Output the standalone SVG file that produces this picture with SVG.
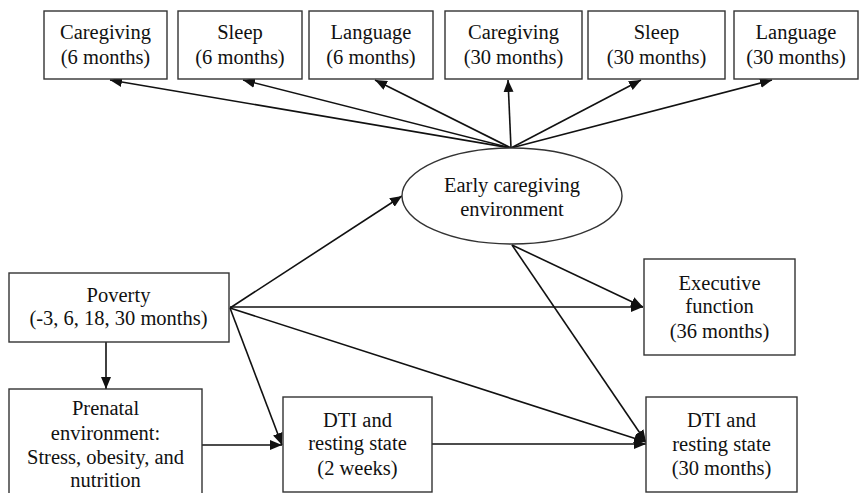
<svg xmlns="http://www.w3.org/2000/svg" width="859" height="493" viewBox="0 0 859 493">
<defs>
<style>
.box{fill:#fff;stroke:#333;stroke-width:1.4}
.t{font-family:"Liberation Serif","Times New Roman",serif;font-size:20.5px;fill:#111;text-anchor:middle}
.c{stroke:#111;stroke-width:1.6;fill:none;marker-end:url(#ah)}
</style>
<marker id="ah" markerUnits="userSpaceOnUse" markerWidth="13" markerHeight="10" refX="12" refY="5" orient="auto">
<path d="M0,0 L12,5 L0,10 Z" fill="#111"/>
</marker>
</defs>
<rect width="859" height="493" fill="#fff"/>
<g id="connectors">
<line class="c" x1="511" y1="148" x2="110" y2="80"/>
<line class="c" x1="511" y1="148" x2="243" y2="80"/>
<line class="c" x1="511" y1="148" x2="375" y2="80"/>
<line class="c" x1="511" y1="148" x2="508" y2="80"/>
<line class="c" x1="511" y1="148" x2="641" y2="80"/>
<line class="c" x1="511" y1="148" x2="772" y2="80"/>
<line class="c" x1="230" y1="308" x2="402" y2="196"/>
<line class="c" x1="230" y1="307" x2="643" y2="307"/>
<line class="c" x1="230" y1="308" x2="646" y2="442"/>
<line class="c" x1="230" y1="308" x2="282" y2="445"/>
<line class="c" x1="512" y1="245" x2="643" y2="307"/>
<line class="c" x1="512" y1="245" x2="646" y2="442"/>
<line class="c" x1="106" y1="342" x2="106" y2="389"/>
<line class="c" x1="202" y1="445" x2="282" y2="445"/>
<line class="c" x1="432" y1="444" x2="646" y2="444"/>
</g>
<g id="caregiving6">
<rect class="box" x="44" y="11" width="123" height="68"/>
<text class="t" x="105.5" y="39">Caregiving</text>
<text class="t" x="105.5" y="64">(6 months)</text>
</g>
<g id="sleep6">
<rect class="box" x="178" y="11" width="124" height="68"/>
<text class="t" x="240" y="39">Sleep</text>
<text class="t" x="240" y="64">(6 months)</text>
</g>
<g id="language6">
<rect class="box" x="309" y="11" width="124" height="68"/>
<text class="t" x="371" y="39">Language</text>
<text class="t" x="371" y="64">(6 months)</text>
</g>
<g id="caregiving30">
<rect class="box" x="445" y="11" width="137" height="68"/>
<text class="t" x="513.5" y="39">Caregiving</text>
<text class="t" x="513.5" y="64">(30 months)</text>
</g>
<g id="sleep30">
<rect class="box" x="588" y="11" width="137" height="68"/>
<text class="t" x="656.5" y="39">Sleep</text>
<text class="t" x="656.5" y="64">(30 months)</text>
</g>
<g id="language30">
<rect class="box" x="734" y="11" width="124" height="68"/>
<text class="t" x="796" y="39">Language</text>
<text class="t" x="796" y="64">(30 months)</text>
</g>
<g id="early-caregiving">
<ellipse class="box" cx="512" cy="196" rx="110" ry="48"/>
<text class="t" x="512" y="192">Early caregiving</text>
<text class="t" x="512" y="216">environment</text>
</g>
<g id="poverty">
<rect class="box" x="9" y="273" width="220" height="69"/>
<text class="t" x="118.5" y="302">Poverty</text>
<text class="t" x="118.5" y="325">(-3, 6, 18, 30 months)</text>
</g>
<g id="executive-function">
<rect class="box" x="644" y="259" width="151" height="96"/>
<text class="t" x="719.5" y="290">Executive</text>
<text class="t" x="719.5" y="313">function</text>
<text class="t" x="719.5" y="338">(36 months)</text>
</g>
<g id="prenatal">
<rect class="box" x="9" y="389" width="193" height="120"/>
<text class="t" x="105.5" y="415">Prenatal</text>
<text class="t" x="105.5" y="440">environment:</text>
<text class="t" x="105.5" y="463.5">Stress, obesity, and</text>
<text class="t" x="105.5" y="487">nutrition</text>
</g>
<g id="dti-2weeks">
<rect class="box" x="283" y="397" width="149" height="95"/>
<text class="t" x="357.5" y="427">DTI and</text>
<text class="t" x="357.5" y="450">resting state</text>
<text class="t" x="357.5" y="475">(2 weeks)</text>
</g>
<g id="dti-30months">
<rect class="box" x="646" y="397" width="151" height="95"/>
<text class="t" x="721.5" y="427">DTI and</text>
<text class="t" x="721.5" y="451">resting state</text>
<text class="t" x="721.5" y="475">(30 months)</text>
</g>
</svg>
